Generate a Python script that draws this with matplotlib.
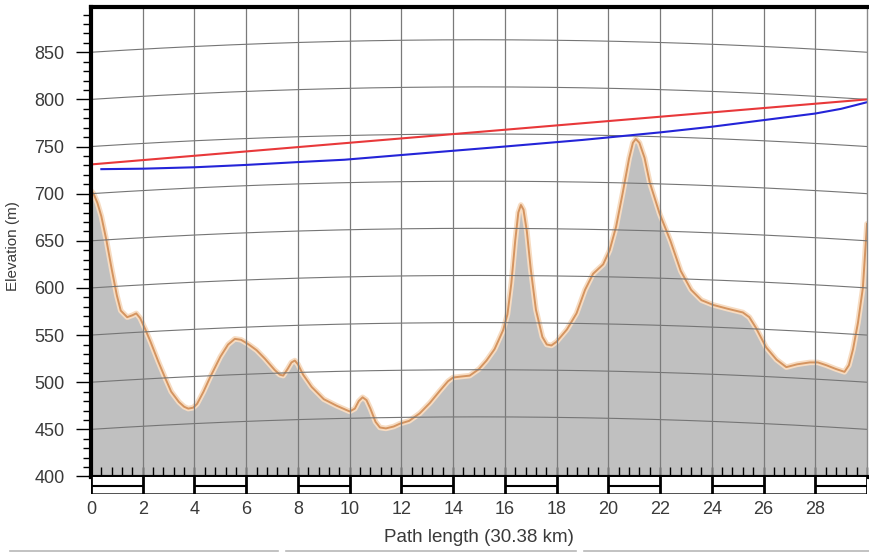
import matplotlib
matplotlib.use("Agg")
import matplotlib.pyplot as plt
import numpy as np
from matplotlib.lines import Line2D
from matplotlib.ticker import MultipleLocator

plt.rcParams['font.family'] = ['Liberation Sans', 'DejaVu Sans']

# terrain profile (km, m)
dist_km = [0.0, 0.1, 0.25, 0.4, 0.6, 0.8, 1.0, 1.15, 1.4, 1.6, 1.75, 1.9, 2.1, 2.3,
           2.6, 2.86, 3.1, 3.4, 3.6, 3.76, 3.95, 4.1, 4.35, 4.6, 5.0, 5.3, 5.56, 5.8,
           6.1, 6.4, 6.72, 7.1, 7.3, 7.43, 7.6, 7.75, 7.88, 8.0, 8.2, 8.53, 9.0, 9.5,
           10.0, 10.2, 10.35, 10.5, 10.65, 10.8, 11.0, 11.17, 11.4, 11.7, 11.94, 12.3,
           12.71, 13.1, 13.49, 13.8, 14.0, 14.3, 14.64, 15.0, 15.29, 15.6, 15.93, 16.1,
           16.25, 16.4, 16.52, 16.62, 16.72, 16.85, 17.0, 17.2, 17.45, 17.62, 17.8, 18.0,
           18.4, 18.77, 19.1, 19.41, 19.8, 20.05, 20.3, 20.55, 20.8, 20.95, 21.06, 21.2,
           21.4, 21.6, 21.98, 22.4, 22.8, 23.2, 23.6, 24.05, 24.6, 25.2, 25.45, 25.7,
           26.1, 26.5, 26.88, 27.3, 27.79, 28.1, 28.43, 28.8, 29.13, 29.3, 29.46, 29.65,
           29.84, 30.0]
elev_m = [703, 700, 690, 676, 650, 620, 592, 576, 569, 571, 573, 568, 556, 543,
          522, 505, 490, 479, 474, 472, 473, 477, 490, 505, 527, 540, 546, 545,
          540, 534, 525, 513, 508, 507, 514, 521, 523, 519, 508, 495, 482, 475,
          469, 472, 480, 484, 481, 472, 458, 452, 451, 453, 456, 459,
          467, 478, 491, 501, 505, 506, 507, 514, 523, 535, 555, 572,
          605, 650, 680, 688, 683, 660, 620, 577, 548, 540, 539, 543,
          556, 573, 598, 615, 625, 640, 665, 700, 737, 754, 758, 754,
          738, 712, 679, 650, 618, 598, 587, 582, 578, 574, 569, 558,
          537, 524, 516, 519, 521, 521, 518, 514, 511, 518, 535, 563,
          600, 668]

# line of sight (red) and curved ray (blue)
los_km = [0.0, 30.0]
los_m = [731, 800]
ray_km = [0.4, 2, 4, 6, 8, 9.8, 12, 14, 16, 19, 22, 24, 26, 28, 29, 30]
ray_m = [726, 726.5, 728, 730.5, 733.5, 736, 741, 745.5, 750, 757, 765, 771, 778, 785, 790, 797]

x_ticks = list(range(0, 30, 2))
y_ticks = list(range(400, 851, 50))
grid_levels = list(range(450, 901, 50))
bar_segments = [(0, 2), (4, 6), (8, 10), (12, 14), (16, 18), (20, 22), (24, 26), (28, 30)]

EARTH_K = 4.0 / 3.0
EARTH_R_KM = 6371.0
X_MAX = 30.0

W, H = 870, 553
fig = plt.figure(figsize=(W / 100, H / 100), dpi=100)
ax = fig.add_axes([91 / W, 1 - 476.5 / H, 776 / W, 469.5 / H])
ax.set_xlim(0, X_MAX)
ax.set_ylim(400, 898)

# terrain
ax.fill_between(dist_km, elev_m, 400, color='#c0c0c0', lw=0, zorder=1)
ax.plot(dist_km, elev_m, color='#f7dcc2', lw=4, zorder=2, solid_capstyle='round',
        solid_joinstyle='round')
ax.plot(dist_km, elev_m, color='#d49460', lw=1.4, zorder=3, solid_joinstyle='round')

# earth-curvature grid lines
d = np.linspace(0, X_MAX, 200)
bulge = d * (X_MAX - d) / (2 * EARTH_K * EARTH_R_KM) * 1000.0
for lev in grid_levels:
    ax.plot(d, lev + bulge, color='#757575', lw=0.8, zorder=4)
for xv in x_ticks[1:]:
    ax.axvline(xv, color='#7a7a7a', lw=0.9, zorder=4)

ax.plot(los_km, los_m, color='#e8383a', lw=1.5, zorder=5)
ax.plot(ray_km, ray_m, color='#2424d8', lw=1.5, zorder=5)

# axes styling
for side in ['top', 'left', 'bottom']:
    ax.spines[side].set_linewidth(3)
    ax.spines[side].set_color('black')
ax.spines['right'].set_color('#8a8a8a')
ax.spines['right'].set_linewidth(1)
for sp in ax.spines.values():
    sp.set_zorder(10)

ax.set_yticks(y_ticks)
ax.yaxis.set_minor_locator(MultipleLocator(10))
ax.tick_params(axis='y', which='major', length=11, width=1, pad=8,
               labelsize=13, labelcolor='#3a3a3a', direction='out')
ax.tick_params(axis='y', which='minor', length=6, width=1, direction='out')
ax.set_xticks(x_ticks)
ax.xaxis.set_minor_locator(MultipleLocator(0.4))
ax.tick_params(axis='x', which='both', direction='in', length=7, width=1,
               labelbottom=False)
ax.set_ylabel('Elevation (m)', fontsize=11, color='#3a3a3a')
ax.yaxis.set_label_coords(-0.0915, 0.49)

# scale strip under the axis
sx = fig.add_axes([91 / W, 1 - 494 / H, 776 / W, 17 / H])
sx.set_xlim(0, X_MAX)
sx.set_ylim(0, 1)
for sp in sx.spines.values():
    sp.set_visible(False)
sx.axhline(0, color='#333333', lw=1.2)
for a, b in bar_segments:
    sx.plot([a, b], [0.5, 0.5], color='black', lw=1.5, solid_capstyle='butt')
    sx.plot([a, a], [0, 1], color='black', lw=2)
    sx.plot([b, b], [0, 1], color='black', lw=2)
sx.set_yticks([])
sx.set_xticks(x_ticks)
sx.tick_params(axis='x', length=0, pad=5, labelsize=13, labelcolor='#3a3a3a')

fig.text(479 / W, 1 - 537 / H, 'Path length (30.38 km)', ha='center', va='center',
         fontsize=13.5, color='#3a3a3a')

# window separator line at the very bottom
for x0, x1 in [(10, 278), (286, 576), (584, 870)]:
    fig.add_artist(Line2D([x0 / W, x1 / W], [1 - 551 / H, 1 - 551 / H],
                          color='#b8b8b8', lw=1.2))

fig.savefig('out.png', dpi=100)
